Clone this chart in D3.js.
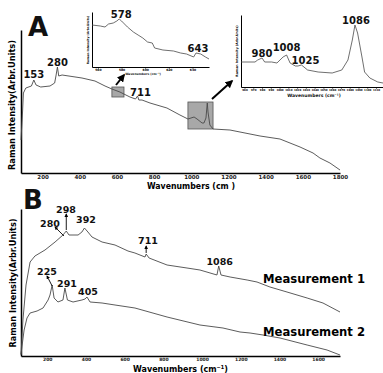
<!DOCTYPE html>
<html>
<head>
<meta charset="utf-8">
<script src="https://cdn.jsdelivr.net/npm/d3@7"></script>
<style>
body { margin: 0; background: #fff; }
text { font-family: "DejaVu Sans", sans-serif; font-weight: bold; }
</style>
</head>
<body>
<svg id="fig" width="383" height="373"></svg>
<script>
// panel A, full spectrum (wavenumber, intensity in arb. units)
var specA_wn = [84, 92, 97, 110, 140, 153, 165, 190, 240, 265, 272, 280, 287, 305, 412, 482, 536, 573, 616, 670, 700, 711, 718, 735, 778, 869, 939, 982, 1015, 1031, 1058, 1068, 1079, 1086, 1090, 1100, 1117, 1208, 1262, 1370, 1477, 1531, 1585, 1655, 1692, 1746, 1800];
var specA_int = [33, 60, 80, 85, 87, 93, 88, 86, 87, 90, 97, 106, 97, 98, 95, 92, 87, 84, 81, 76, 74, 77, 73, 73, 70, 65, 58, 54, 56, 54, 50, 50, 55, 70, 61, 48, 44, 43, 41, 37, 34, 30, 26, 20, 15, 10, 3];
var ticksA = [200, 400, 600, 800, 1000, 1200, 1400, 1600, 1800];
var peaksA = [153, 280, 711];

// inset 1 (around 578 / 643)
var ins1_wn = [555, 562, 566, 569, 573, 576, 578, 580, 585, 590, 594, 598, 602, 606, 608, 615, 624, 630, 635, 641, 643, 647, 651, 654];
var ins1_int = [42, 41, 40, 43, 44, 46, 48, 46, 40, 35, 32, 29, 25, 24, 19, 17, 16, 14, 13, 10, 14, 13, 10, 8];
var ticksIns1 = [560, 580, 600, 620, 640];

// inset 2 (960 - 1110)
var ins2_wn = [956, 972, 975, 980, 983, 991, 997, 1004, 1008, 1012, 1018, 1021, 1025, 1032, 1044, 1060, 1071, 1078, 1083, 1086, 1089, 1094, 1097, 1103, 1112, 1118];
var ins2_int = [25, 25, 27, 29, 25, 25, 24, 30, 32, 24, 21, 21, 22, 17, 15, 14, 17, 27, 47, 62, 54, 30, 15, 9, 5, 4];
var ticksIns2 = [960, 970, 980, 990, 1000, 1010, 1020, 1030, 1040, 1050, 1060, 1070, 1080, 1090, 1100, 1110];

// panel B
var meas1_wn = [64, 74, 90, 111, 136, 188, 240, 281, 298, 312, 359, 379, 392, 410, 431, 483, 550, 617, 653, 705, 711, 726, 819, 922, 989, 1077, 1086, 1098, 1145, 1233, 1284, 1351, 1439, 1543, 1625, 1713];
var meas1_int = [1, 36, 71, 94, 100, 106, 114, 121, 125, 121, 121, 124, 128, 124, 119, 114, 111, 105, 103, 99, 102, 98, 91, 88, 86, 81, 90, 81, 79, 76, 74, 69, 64, 58, 53, 44];
var meas2_wn = [64, 80, 95, 111, 147, 178, 204, 214, 225, 235, 255, 281, 291, 304, 333, 379, 395, 405, 421, 483, 550, 653, 819, 989, 1108, 1196, 1248, 1315, 1403, 1543, 1646, 1713];
var meas2_int = [2, 26, 38, 43, 45, 48, 56, 61, 71, 58, 54, 56, 68, 56, 54, 56, 57, 59, 54, 53, 51, 48, 39, 31, 28, 24, 23, 21, 18, 11, 6, 1];
var ticksB = [200, 400, 600, 800, 1000, 1200, 1400, 1600];

var svg = d3.select('#fig')
var lineCol = '#4a4a4a'
var fmt = d3.format('d')

svg.append('defs').append('marker')
   .attr('id', 'head')
   .attr('viewBox', '0 0 10 10')
   .attr('refX', 8).attr('refY', 5)
   .attr('markerWidth', 4).attr('markerHeight', 4)
   .attr('orient', 'auto')
   .append('path').attr('d', 'M0,0 L10,5 L0,10 z').attr('fill', '#000')

var drawLine = (g, x, y, wn, val, w) => {
    var pts = d3.zip(wn, val)
    g.append('path')
     .attr('d', d3.line().x(d => x(d[0])).y(d => y(d[1]))(pts))
     .attr('fill', 'none')
     .attr('stroke', lineCol)
     .attr('stroke-width', w)
}

var label = (x, y, txt, size, anchor) => {
    svg.append('text')
       .attr('x', x).attr('y', y)
       .attr('text-anchor', anchor || 'middle')
       .attr('font-size', size)
       .attr('fill', '#111')
       .text(txt)
}

var arrow = (x1, y1, x2, y2, w) => {
    svg.append('line')
       .attr('x1', x1).attr('y1', y1).attr('x2', x2).attr('y2', y2)
       .attr('stroke', '#000').attr('stroke-width', w)
       .attr('marker-end', 'url(#head)')
}

var mainAxes = (x, y, ticks, fs, tsize, pad) => {
    var gx = svg.append('g')
        .attr('transform', 'translate(0,' + y.range()[0] + ')')
        .call(d3.axisBottom(x).tickValues(ticks).tickFormat(fmt).tickSize(tsize).tickSizeOuter(0).tickPadding(pad))
    gx.select('.domain').attr('stroke-width', 1.5)
    gx.selectAll('text').attr('font-size', fs).attr('font-family', '"DejaVu Sans", sans-serif').attr('fill', '#222')
    var gy = svg.append('g')
        .attr('transform', 'translate(' + x.range()[0] + ',0)')
        .call(d3.axisLeft(y).tickValues([]).tickSizeOuter(0))
    gy.select('.domain').attr('stroke-width', 1.5)
}

var insetAxes = (x, y, ticks, fs) => {
    var gx = svg.append('g').attr('transform', 'translate(0,' + y.range()[0] + ')')
       .call(d3.axisBottom(x).tickValues(ticks).tickFormat(fmt).tickSize(1.5).tickSizeOuter(0).tickPadding(0.5))
    gx.selectAll('text').attr('font-size', fs).attr('font-family', '"DejaVu Sans", sans-serif')
    svg.append('g').attr('transform', 'translate(' + x.range()[0] + ',0)')
       .call(d3.axisLeft(y).tickValues([]).tickSizeOuter(0))
}

// ---------- panel A ----------
var xA = d3.scaleLinear().domain([84, 1800]).range([21, 340])
var yA = d3.scaleLinear().domain([0, 143]).range([173, 30])

mainAxes(xA, yA, ticksA, 5.5, 0, 2)

// zoom boxes
var boxes = [[573, 638, 76, 86], [982, 1117, 44, 71]]
boxes.forEach(b => {
    svg.append('rect')
       .attr('x', xA(b[0])).attr('y', yA(b[3]))
       .attr('width', xA(b[1]) - xA(b[0])).attr('height', yA(b[2]) - yA(b[3]))
       .attr('fill', '#a8a8a8').attr('stroke', '#555').attr('stroke-width', 0.8)
})
drawLine(svg, xA, yA, specA_wn, specA_int, 0.9)

var pA = peaksA.map(p => specA_int[specA_wn.indexOf(p)])
label(xA(153), yA(pA[0]) - 2, '153', 10)
label(xA(280), yA(pA[1]) - 1, '280', 10)
label(xA(711) + 3, yA(pA[2]), '711', 10)

arrow(116, 85, 124, 75, 2)
arrow(212, 99, 232, 81, 2)

label(28, 36, 'A', 26, 'start')
svg.append('text')
   .attr('transform', 'translate(15,105) rotate(-90)')
   .attr('text-anchor', 'middle').attr('font-size', 8)
   .attr('textLength', 130).attr('lengthAdjust', 'spacingAndGlyphs')
   .text('Raman Intensity(Arbr.Units)')
svg.append('text')
   .attr('x', 147).attr('y', 189).attr('font-size', 9.5)
   .attr('textLength', 88).attr('lengthAdjust', 'spacingAndGlyphs')
   .text('Wavenumbers (cm  )')

// ---------- inset 1 ----------
var xI1 = d3.scaleLinear().domain([555, 654]).range([92, 209])
var yI1 = d3.scaleLinear().domain([0, 55]).range([67, 12])
insetAxes(xI1, yI1, ticksIns1, 3)
drawLine(svg, xI1, yI1, ins1_wn, ins1_int, 0.8)
label(xI1(578) + 2, yI1(48) - 1, '578', 10)
label(xI1(643) + 2, yI1(14) - 1, '643', 10)
label(143, 74.5, 'Wavenumbers (cm⁻¹)', 3)
svg.append('text')
   .attr('transform', 'translate(89,40) rotate(-90)')
   .attr('text-anchor', 'middle').attr('font-size', 3)
   .text('Raman Intensity (Arbr.Units)')

// ---------- inset 2 ----------
var xI2 = d3.scaleLinear().domain([956, 1118]).range([241, 383])
var yI2 = d3.scaleLinear().domain([0, 72]).range([87, 15])
insetAxes(xI2, yI2, ticksIns2, 2.6)
drawLine(svg, xI2, yI2, ins2_wn, ins2_int, 0.8)
label(xI2(980), yI2(29) - 1, '980', 10)
label(xI2(1008), yI2(32) - 4, '1008', 10)
label(xI2(1025) + 4, yI2(22) - 1, '1025', 10)
label(xI2(1086) + 1, yI2(62) - 1, '1086', 10)
label(314, 97, 'Wavenumbers (cm⁻¹)', 4.5)
svg.append('text')
   .attr('transform', 'translate(238,51) rotate(-90)')
   .attr('text-anchor', 'middle').attr('font-size', 3.2)
   .text('Raman Intensity (Arbr.Units)')

// ---------- panel B ----------
var xB = d3.scaleLinear().domain([64, 1713]).range([21, 340])
var yB = d3.scaleLinear().domain([0, 147]).range([356, 209])

mainAxes(xB, yB, ticksB, 4.5, 1, 1)
drawLine(svg, xB, yB, meas1_wn, meas1_int, 0.9)
drawLine(svg, xB, yB, meas2_wn, meas2_int, 0.9)

label(23, 209, 'B', 26, 'start')
label(50, 227, '280', 9.5)
arrow(xB(281) + 1, yB(121) + 1, 55, 227, 0.9)
label(66, 213, '298', 9.5)
arrow(xB(298), yB(125) - 1, xB(298), 214, 0.9)
label(86, 223, '392', 9.5)
label(148, 244, '711', 9.5)
arrow(xB(711), yB(102) - 1, xB(711), 246, 0.9)
label(xB(1086) + 1, yB(90) - 1, '1086', 9.5)

label(47, 275, '225', 9.5)
arrow(xB(225), yB(71) + 1, 47, 276, 0.9)
label(67, 287, '291', 9.5)
label(88, yB(59) - 2, '405', 9.5)

svg.append('text').attr('x', 263).attr('y', 283).attr('font-size', 11.5)
   .attr('textLength', 102).attr('lengthAdjust', 'spacingAndGlyphs')
   .text('Measurement 1')
svg.append('text').attr('x', 263).attr('y', 336).attr('font-size', 11.5)
   .attr('textLength', 102).attr('lengthAdjust', 'spacingAndGlyphs')
   .text('Measurement 2')

svg.append('text')
   .attr('transform', 'translate(16,283) rotate(-90)')
   .attr('text-anchor', 'middle').attr('font-size', 8)
   .attr('textLength', 129).attr('lengthAdjust', 'spacingAndGlyphs')
   .text('Raman Intensity(Arbr.Units)')
svg.append('text')
   .attr('x', 133).attr('y', 372).attr('font-size', 9.5)
   .attr('textLength', 95).attr('lengthAdjust', 'spacingAndGlyphs')
   .text('Wavenumbers (cm⁻¹)')
</script>
</body>
</html>
